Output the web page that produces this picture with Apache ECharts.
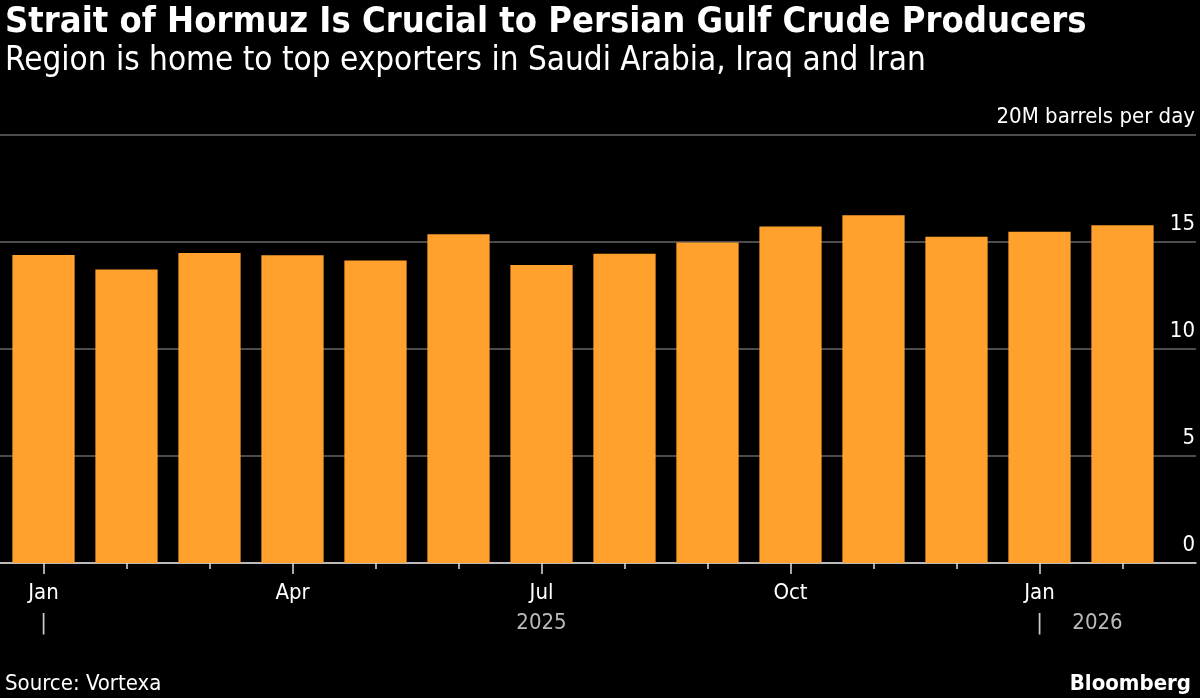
<!DOCTYPE html>
<html>
<head>
<meta charset="utf-8">
<script src="https://cdn.jsdelivr.net/npm/echarts@6/dist/echarts.min.js"></script>
<style>
html,body{margin:0;padding:0;background:#000;}
#c{width:1200px;height:698px;}
</style>
</head>
<body>
<div id="c"></div>
<script>
const categories = ['2025-01','2025-02','2025-03','2025-04','2025-05','2025-06','2025-07','2025-08','2025-09','2025-10','2025-11','2025-12','2026-01','2026-02'];
const monthLabels = ['Jan','','','Apr','','','Jul','','','Oct','','','Jan',''];
const yearLabels = ['|','','','','','','2025','','','','','','|2026',''];
const exports = [14.39,13.72,14.49,14.38,14.14,15.36,13.93,14.45,14.98,15.73,16.25,15.25,15.48,15.78];
const yTicks = [0,5,10,15,20];

const FONT = "'Liberation Sans Narrow','DejaVu Sans Condensed','Liberation Sans',sans-serif";
const chart = echarts.init(document.getElementById('c'));

const option = {
  backgroundColor: '#000',
  animation: false,
  title: [
    {text: 'Strait of Hormuz Is Crucial to Persian Gulf Crude Producers', left: 0, top: 0,
     textStyle: {color: '#fff', fontSize: 36, fontWeight: 'bold', fontFamily: FONT}},
    {text: 'Region is home to top exporters in Saudi Arabia, Iraq and Iran', left: 0, top: 40,
     textStyle: {color: '#fff', fontSize: 33, fontWeight: 'normal', fontFamily: FONT}},
    {text: 'Source: Vortexa', left: 0, top: 668,
     textStyle: {color: '#fff', fontSize: 22, fontWeight: 'normal', fontFamily: FONT}},
    {text: 'Bloomberg', right: 4, top: 668,
     textStyle: {color: '#fff', fontSize: 22, fontWeight: 'bold', fontFamily: FONT}}
  ],
  grid: [
    {left: 0, right: 4, top: 135, bottom: 135},
    {left: 2, right: 36, top: 135, bottom: 135}
  ],
  xAxis: [
    {gridIndex: 0, type: 'value', position: 'bottom', min: 0, max: 1, axisLine: {show: true, onZero: false, lineStyle: {color: '#ddd', width: 1.5}},
     axisTick: {show: false}, axisLabel: {show: false}, splitLine: {show: false}},
    {gridIndex: 1, type: 'category', position: 'bottom', offset: 0, data: categories, axisLine: {show: false},
     axisTick: {show: true, alignWithLabel: true, interval: 0, length: 6, lineStyle: {color: '#ddd', width: 1.5}},
     axisLabel: {show: false}},
    {gridIndex: 1, type: 'category', position: 'bottom', offset: 0, data: categories, axisLine: {show: false},
     axisTick: {show: true, alignWithLabel: true, length: 11, interval: (i) => monthLabels[i] !== '', lineStyle: {color: '#ddd', width: 1.5}},
     axisLabel: {show: true, interval: (i) => monthLabels[i] !== '', formatter: (v, i) => monthLabels[i],
       color: '#fff', fontSize: 22, fontFamily: FONT, margin: 19}},
    {gridIndex: 1, type: 'category', position: 'bottom', offset: 0, data: categories, axisLine: {show: false}, axisTick: {show: false},
     axisLabel: {show: true, interval: (i) => yearLabels[i] !== '', margin: 49,
       formatter: (v, i) => {
         const t = yearLabels[i];
         if (t.startsWith('|') && t.length > 1) {
           return '{sp|}{bar||}{gap|}{yr|' + t.slice(1) + '}';
         }
         if (t === '|') return '{bar||}';
         return '{yr|' + t + '}';
       },
       rich: {
         sp: {width: 85},
         bar: {width: 6, align: 'center', color: '#ccc', fontSize: 22, fontFamily: FONT},
         gap: {width: 25},
         yr: {width: 60, color: '#bbb', fontSize: 22, fontFamily: FONT}
       }}}
  ],
  yAxis: [
    {gridIndex: 0, type: 'value', position: 'right', min: 0, max: 20, interval: 5,
     axisLine: {show: false}, axisTick: {show: false},
     splitLine: {show: true, lineStyle: {color: '#666', width: 1.5}},
     axisLabel: {inside: true, align: 'right', verticalAlign: 'bottom', margin: 1, padding: [0, 0, 7, 0],
       color: '#fff', fontSize: 22, fontFamily: FONT,
       formatter: (v) => v === 20 ? '20M barrels per day' : String(v)}},
    {gridIndex: 1, type: 'value', min: 0, max: 20, interval: 5, show: false}
  ],
  series: [
    {type: 'bar', xAxisIndex: 1, yAxisIndex: 1, data: exports, barCategoryGap: '25%',
     itemStyle: {color: '#ffa12c'}, silent: true}
  ]
};
chart.setOption(option);
</script>
</body>
</html>
